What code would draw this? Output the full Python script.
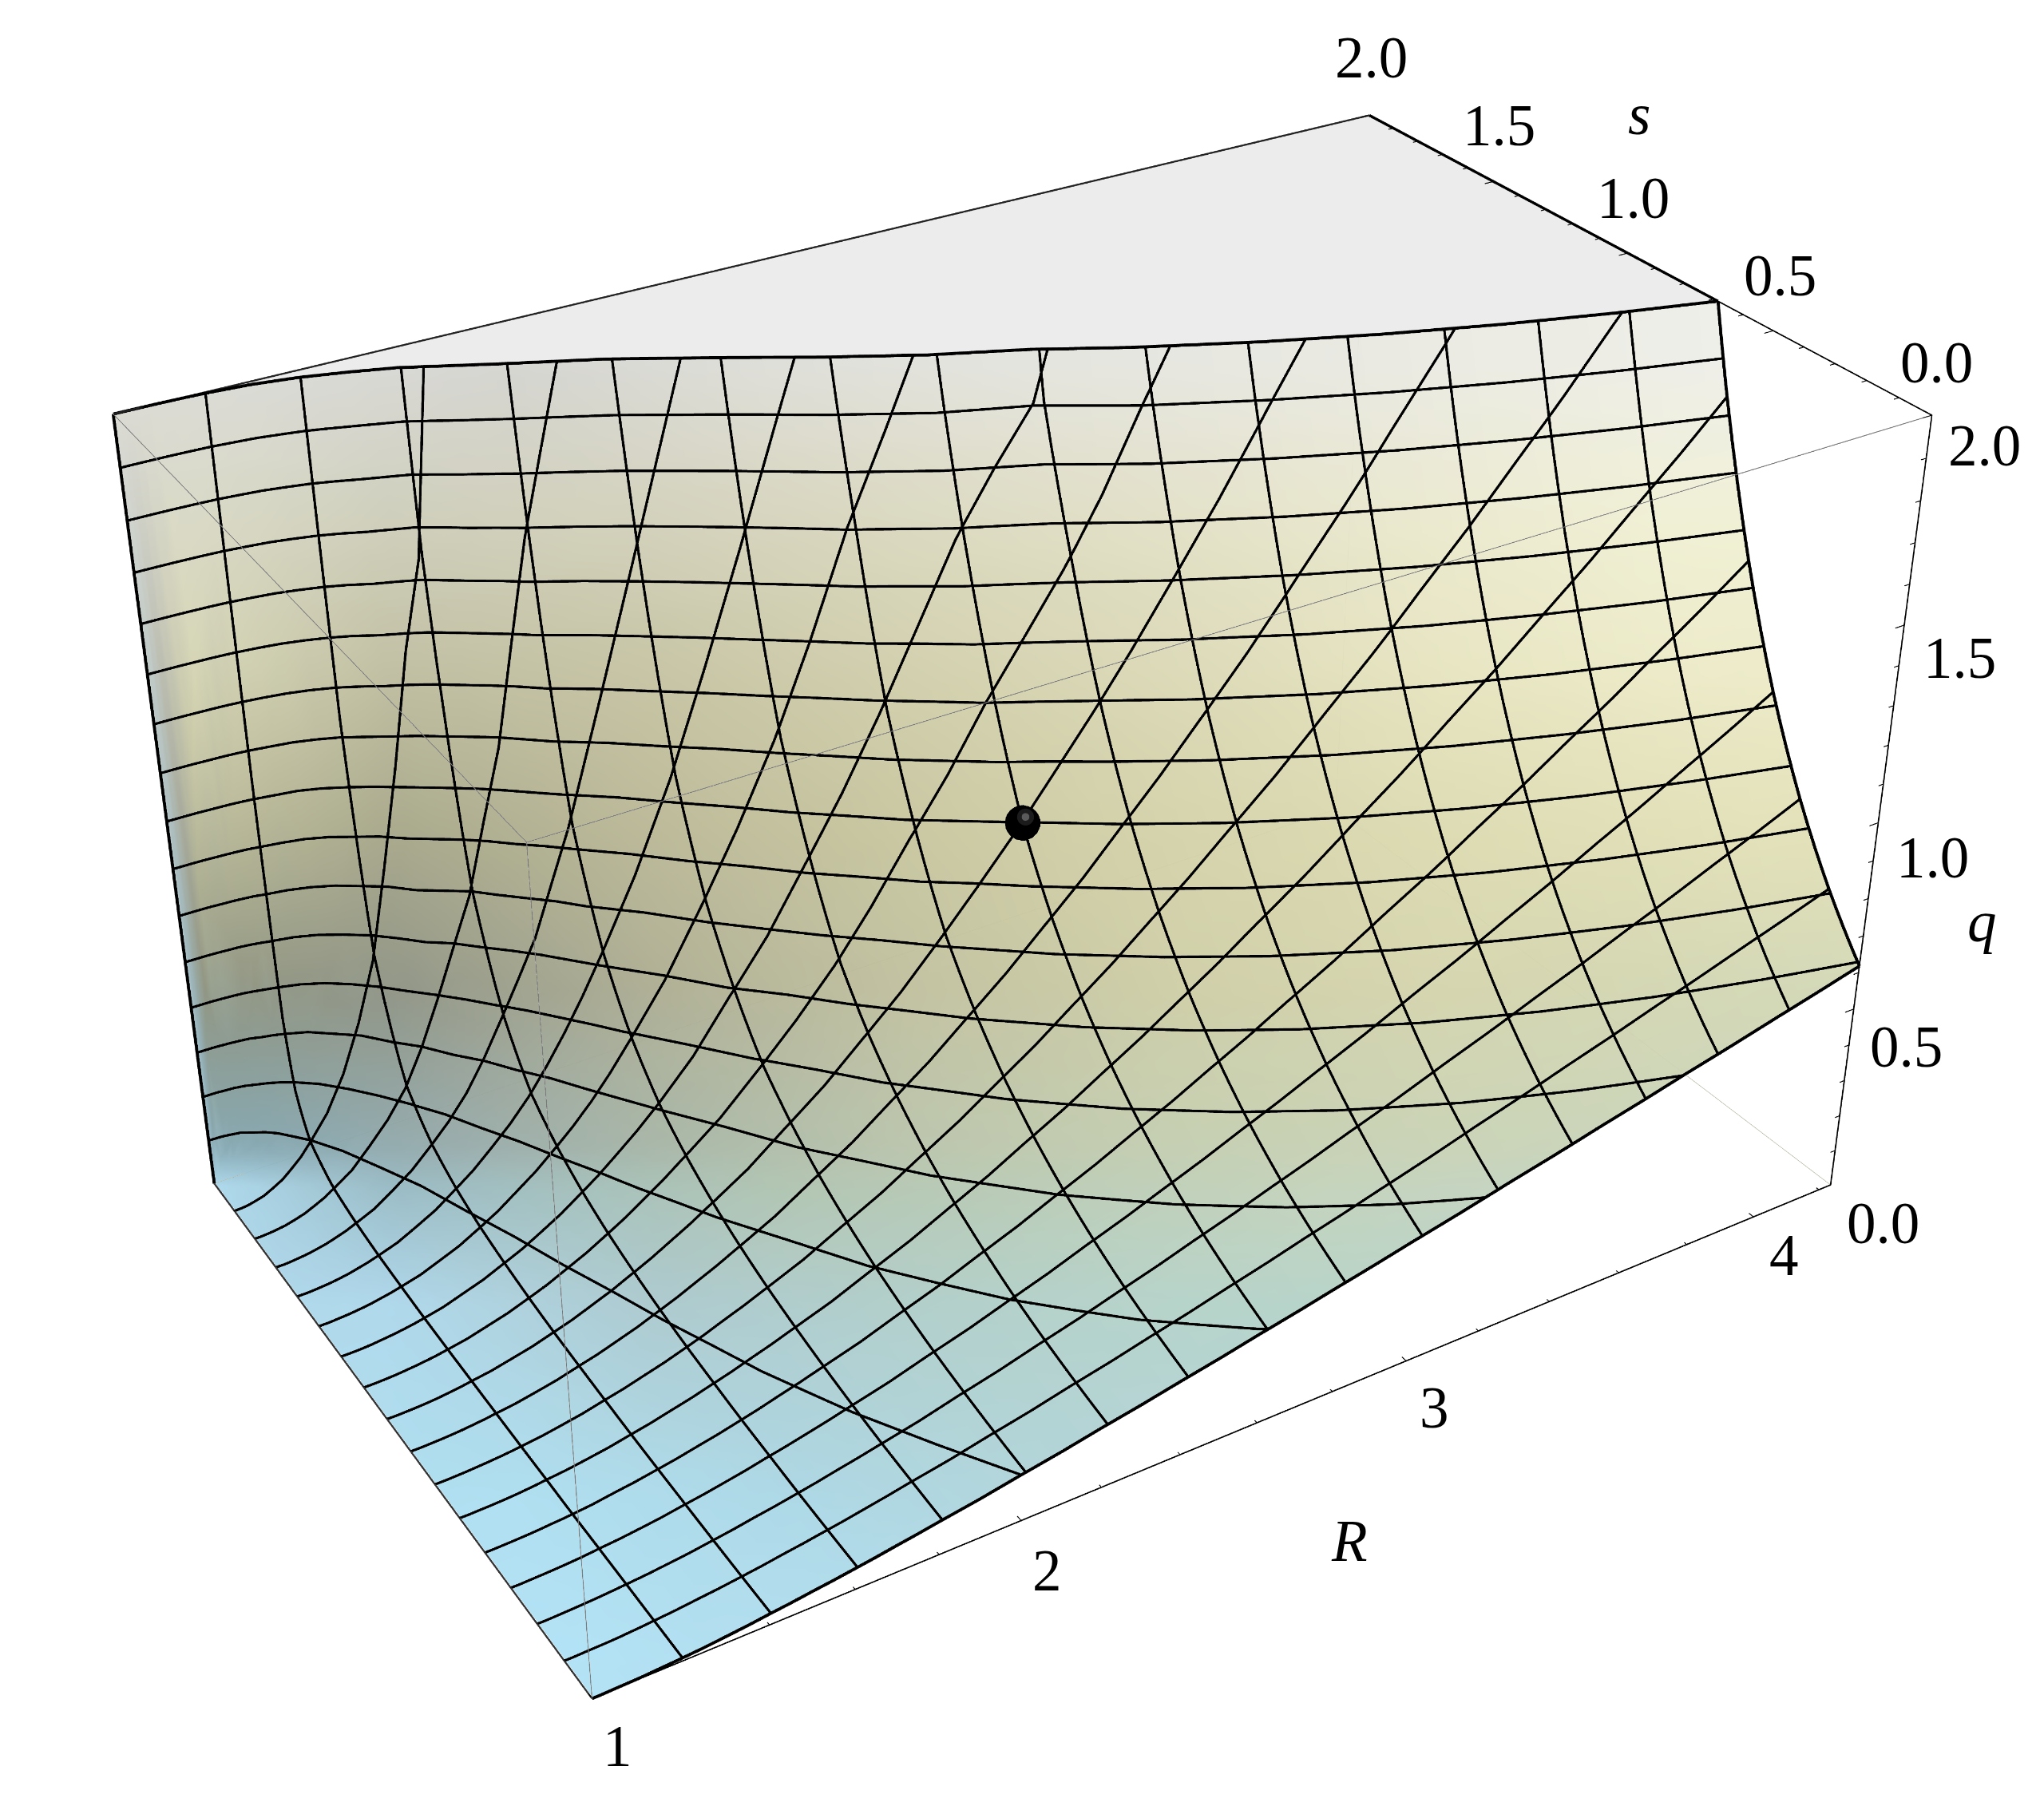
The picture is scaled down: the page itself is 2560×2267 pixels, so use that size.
import numpy as np, plotly.graph_objects as go

# ---- values ----
R_nodes=[1,1.02,1.05,1.1,1.15,1.2,1.3,1.4,1.5,1.6,1.7,1.8,2,2.2,2.4,2.6,2.8,3,3.25,3.5,3.75,4,4.236]
s_nodes=[0,.125,.25,.375,.5,.625,.75,.875,1,1.125,1.25,1.375,1.5,1.625,1.75,1.875,1.94,1.97,1.99,1.995,1.999]
q_rows=[
[0]*21,
[0,0,0,0,0,0,0,0,0,0,0,0,0,0,.001,.001,.002,.004,.009,.017,.068],
[.001,.001,.001,.001,.001,.001,.001,.001,.001,.001,.001,.002,.002,.003,.004,.007,.013,.023,.060,.109,.432],
[.002,.002,.003,.003,.003,.003,.004,.004,.004,.005,.006,.007,.008,.011,.015,.028,.053,.097,.248,.449,1.780],
[.005,.005,.006,.006,.007,.007,.008,.009,.010,.011,.013,.016,.019,.025,.035,.065,.123,.223,.574,1.039],
[.008,.009,.010,.011,.011,.013,.014,.016,.018,.020,.023,.028,.034,.045,.064,.119,.224,.408,1.048,1.898],
[.017,.019,.020,.022,.025,.027,.030,.034,.039,.045,.053,.063,.078,.103,.150,.279,.530,.965],
[.029,.031,.034,.038,.042,.047,.053,.060,.068,.079,.094,.113,.142,.188,.275,.56,1.15,1.796],
[.042,.046,.051,.056,.063,.071,.080,.091,.105,.123,.146,.179,.225,.301,.49,1.05],
[.056,.062,.069,.078,.087,.099,.112,.129,.150,.176,.211,.259,.329,.47,.74,1.55],
[.072,.080,.090,.101,.115,.131,.150,.173,.202,.239,.288,.356,.47,.66,1.1],
[.089,.100,.112,.127,.145,.166,.191,.222,.261,.311,.377,.48,.64,.92,1.6],
[.125,.142,.162,.185,.213,.246,.287,.337,.401,.482,.61,.78,1.05,1.55],
[.164,.188,.216,.249,.290,.338,.398,.473,.567,.690,.89,1.15,1.58],
[.204,.236,.274,.320,.375,.442,.524,.628,.760,.96,1.22,1.63],
[.246,.287,.336,.395,.467,.555,.664,.802,.979,1.25,1.6],
[.289,.340,.401,.475,.566,.677,.817,.995,1.223,1.525,1.88],
[.333,.394,.469,.559,.671,.809,.983,1.204,1.492,1.873],
[.389,.465,.557,.670,.810,.985,1.206,1.491,1.862],
[.446,.537,.648,.785,.957,1.173,1.448,1.803],
[.504,.611,.742,.906,1.112,1.372,1.706],
[.562,.686,.839,1.031,1.274,1.583,1.981],
[.618,.758,.933,1.153,1.433,1.791],
]
s_top_nodes=[2.0,1.99998,1.99983,1.99913,1.99767,1.9953,1.985,1.965,1.935,1.9,1.85,1.80,1.705,1.59,1.47,1.36,1.27,1.1595,1.0389,.9323,.8383,.7552,.6853]
R_min,R_max=1.0,4.236
R_mesh_step=.20225; s_mesh_step=.125; q_mesh_step=.125
dot=(2.618,1.0,1.0)
tick_labels_R=["1","2","3","4"]
tick_labels_s=["0.0","0.5","1.0","1.5","2.0"]
tick_labels_q=["0.0","0.5","1.0","1.5","2.0"]
axis_titles=["<i>R</i>","<i>s</i>","<i>q</i>"]

# ---- styles and layout ----
color_y=[280,400,520,640,760,880,910,1000,1150,1270]
color_x=[[200,400,600,800,1000,1200,1300],[150,300,500,700,900,1100,1280],[130,300,500,700,900,1100,1300],[150,300,500,700,900,1100,1340],
 [170,300,500,700,900,1100,1380],[200,350,500,700,900,1100,1300],[170,300,600,1000,1250],[300,500,700,900],[400,600,800],[450,550]]
color_v=[
[(218,218,215),(212,212,208),(222,222,216),(228,228,222),(232,232,225),(236,236,228),(238,238,232)],
[(216,216,196),(205,205,185),(210,208,185),(218,216,190),(226,224,197),(235,233,205),(240,240,212)],
[(215,215,180),(190,188,158),(196,194,160),(208,206,170),(218,216,180),(230,228,190),(236,234,198)],
[(185,185,150),(165,165,135),(185,183,148),(200,198,158),(212,210,168),(220,218,175),(226,224,182)],
[(140,145,125),(140,145,130),(172,172,145),(192,192,158),(205,205,165),(212,212,172),(210,215,180)],
[(130,165,175),(150,170,170),(165,180,165),(185,195,170),(195,205,175),(200,210,180),(200,212,185)],
[(170,215,235),(150,185,195),(175,195,175),(195,210,185),(195,212,195)],
[(172,215,235),(170,200,205),(175,205,200),(180,210,200)],
[(172,222,240),(170,215,230),(175,212,218)],
[(175,225,245),(175,222,240)],
]
H=4090;YP=1000;W=2560;PAD=.04;TOP=int(round(YP-H/2))
FOC=(H/2)/np.tan(np.pi/8)
EYE=np.array([-1.9638,-3.1890,2.2915]);CTR=np.array([.0068,.0116,.0227]);AX,AY,AZ=1.6197,1.0004,1.0
pos_R=[(773,2187),(1311,1967),(1796,1763),(2234,1572)]
pos_s=[(2425,454),(2229,346),(2045,248),(1877,157),(1717,73)]
pos_q=[(2358,1532),(2387,1311),(2420,1074),(2454,824),(2485,558)]
pos_t=[(1690,1930),(2053,143),(2482,1154)]
labels=list(zip(tick_labels_R+tick_labels_s+tick_labels_q+axis_titles,pos_R+pos_s+pos_q+pos_t))

# ---- table helpers ----
Rn=np.array(R_nodes);S=np.array(s_nodes);EPS=.002
def densify(s,q):
    s2=np.unique(np.concatenate([np.linspace(s[i],s[i+1],5) for i in range(len(s)-1)]))
    return s2,np.maximum.accumulate(np.exp(np.interp(s2,s,np.log(q+EPS)))-EPS)
rows=[]
for r,st in zip(q_rows,s_top_nodes):
    keep=[j for j in range(len(r)) if S[j]<st]
    rows.append(densify(np.r_[S[keep],st],np.r_[np.array(r,float)[keep],2.0]))
def st_at(R): return float(np.interp(R,Rn,s_top_nodes))
def row_at(R):
    i=int(np.searchsorted(Rn,R))
    if i<len(Rn) and abs(Rn[i]-R)<1e-9: return rows[i]
    a,b=rows[i-1],rows[i];w=(R-Rn[i-1])/(Rn[i]-Rn[i-1])
    u=np.unique(np.r_[a[0]/a[0][-1],b[0]/b[0][-1]])
    qa=np.interp(u*a[0][-1],*a);qb=np.interp(u*b[0][-1],*b)
    st=a[0][-1]*(1-w)+b[0][-1]*w
    q=np.exp(np.log(qa+EPS)*(1-w)+np.log(qb+EPS)*w)-EPS
    return u*st,np.maximum.accumulate(q)
extra=[R_min+i*R_mesh_step for i in range(1,16)]
Rf=np.array(sorted(set(np.round(list(Rn)+extra+list((Rn[1:]+Rn[:-1])/2),5))));Rf[-1]=R_max
s_top=np.array([st_at(r) for r in Rf])
Sall=np.r_[S,2.0]
U=np.unique(np.r_[Sall/2,(Sall[1:]+Sall[:-1])/4,np.linspace(0,1,41)])
ni,nj=len(Rf),len(U)
SS=np.outer(s_top,U);QQ=np.zeros_like(SS)
for i,r in enumerate(Rf):
    a,b=row_at(r);QQ[i]=np.interp(SS[i],a,b)
RR=np.repeat(Rf[:,None],nj,axis=1)

# ---- vertex colours sampled by picture position ----
Pn=np.stack([(RR-2.618)/3.236*AX,(SS-1)/2*AY,(QQ-1)/2*AZ],axis=-1)
zc=EYE-CTR;zc=zc/np.linalg.norm(zc);xc=np.cross([0,0,1.],zc);xc/=np.linalg.norm(xc);yc=np.cross(zc,xc)
vv=Pn-EYE;dep=-(vv@zc)
fx=((1280+FOC*(vv@xc)/dep)*1568/2560).ravel();fy=((YP-FOC*(vv@yc)/dep)*1568/2560).ravel()
col=np.zeros((ni*nj,3))
cy=np.array(color_y);idx=np.clip(np.searchsorted(cy,fy)-1,0,len(cy)-2);w=np.clip((fy-cy[idx])/(cy[idx+1]-cy[idx]),0,1)
for ch in range(3):
    M=np.array([np.interp(fx,cx,[c[ch] for c in cv]) for cx,cv in zip(color_x,color_v)])
    col[:,ch]=M[idx,np.arange(len(fx))]*(1-w)+M[idx+1,np.arange(len(fx))]*w
vc=["rgb(%d,%d,%d)"%tuple(c) for c in col]

# ---- surface and clipped top ----
I=[];J=[];K=[]
for i in range(ni-1):
    for j in range(nj-1):
        a=i*nj+j;b=a+1;c=a+nj;d=c+1
        I+=[a,b];J+=[b,d];K+=[c,c]
LIT=dict(ambient=1,diffuse=0,specular=0,roughness=1,fresnel=0)
fig=go.Figure()
fig.add_trace(go.Mesh3d(x=RR.ravel(),y=SS.ravel(),z=QQ.ravel(),i=I,j=J,k=K,vertexcolor=vc,opacity=.95,lighting=LIT,hoverinfo='skip'))
tx=np.r_[Rf,Rf];ty=np.r_[s_top,np.full(ni,2.0)];tz=np.full(2*ni,2.0)
ti=[];tj=[];tk=[]
for i in range(ni-1):
    ti+=[i,i+1];tj+=[i+1,ni+i+1];tk+=[ni+i,ni+i]
fig.add_trace(go.Mesh3d(x=tx,y=ty,z=tz,i=ti,j=tj,k=tk,color='#ececec',opacity=1,lighting=LIT,hoverinfo='skip'))

# ---- lines ----
dv=(EYE-CTR)/np.linalg.norm(EYE-CTR)*.006
dd=np.array([dv[0]*3.236/AX,dv[1]*2/AY,dv[2]*2/AZ])
def add(xs,ys,zs,color='black',width=6):
    xs=np.array(xs,float)+dd[0];ys=np.array(ys,float)+dd[1];zs=np.array(zs,float)+dd[2]
    fig.add_trace(go.Scatter3d(x=xs,y=ys,z=zs,mode='lines',line=dict(color=color,width=width),hoverinfo='skip',showlegend=False))
def join(segs):
    X=[];Y=[];Z=[]
    for a,b,c in segs:
        X+=list(a)+[np.nan];Y+=list(b)+[np.nan];Z+=list(c)+[np.nan]
    return X,Y,Z
segs=[]
for k in range(1,16):
    r=R_min+k*R_mesh_step
    a,b=row_at(r)
    segs.append((np.full(len(a),r),a,b))
for k in range(1,16):
    sv=k*s_mesh_step
    rr=[];qq=[]
    for r,st in zip(Rf,s_top):
        if st<sv: break
        a,b=row_at(r);rr.append(r);qq.append(np.interp(sv,a,b))
    if rr[-1]<R_max-1e-6:
        rr.append(np.interp(-sv,-np.array(s_top_nodes),Rn));qq.append(2.0)
    segs.append((rr,np.full(len(rr),sv),qq))
q0=np.array([row_at(r)[1][0] for r in Rf])
for k in range(1,16):
    lv=k*q_mesh_step
    Rend=np.interp(lv,q0,Rf) if lv<q0[-1] else R_max
    rr=np.r_[Rf[Rf<Rend],Rend];sc=[]
    for r in rr:
        a,b=row_at(r);sc.append(np.interp(lv,b,a))
    segs.append((rr,sc,np.full(len(rr),lv)))
add(*join(segs),width=6)
ar,br=rows[-1]
segs=[(Rf,np.zeros(ni),q0),(Rf,s_top,np.full(ni,2.0)),(np.full(len(ar),R_max),ar,br),([R_min,R_min],[2,2],[0,2])]
add(*join(segs),width=7)
add([R_min,R_min],[0,2],[0,0],color='#333333',width=4)
add([R_min,R_max],[2,2],[2,2],color='#222222',width=4)
add([R_max,R_max],[s_top[-1],2],[2,2],width=6)
add([R_min,R_max,R_max,R_max],[0,0,0,s_top[-1]],[0,0,2,2],width=3)
add(*join([([R_min,R_max],[2,2],[0,0]),([R_max,R_max],[0,2],[0,0]),([R_max,R_max],[2,2],[0,2])]),color='#a8a890',width=1)
add(*join([([R_min,R_min],[0,0],[0,2]),([R_min,R_max],[0,0],[2,2]),([R_min,R_min],[0,2],[2,2])]),color='#777777',width=2)
segs=[]
for v in np.arange(1,4.21,.2):
    L=.016 if abs(v-round(v))<1e-6 else .009
    segs.append(([v,v],[0,L],[0,0]))
for v in np.arange(0,2.01,.1):
    L=.016 if abs(v*2-round(v*2))<1e-6 else .009
    segs.append(([R_max,R_max-L*1.6],[v,v],[2,2]))
    segs.append(([R_max,R_max-L*1.6],[0,0],[v,v]))
add(*join(segs),width=2)

# ---- point ----
def marker(P,size,color):
    fig.add_trace(go.Scatter3d(x=[P[0]],y=[P[1]],z=[P[2]],mode='markers',marker=dict(size=size,color=color,line=dict(width=0)),hoverinfo='skip'))
marker(np.array(dot)+dd*6,23,'black')
marker(np.array(dot)+dd*9+np.array([.008,0,.012]),11,'#1c1c1c')
marker(np.array(dot)+dd*12+np.array([.008,0,.012]),5,'#5a5a5a')

anns=[dict(x=p[0]/W,y=1-(p[1]-TOP)/H,xref='paper',yref='paper',text=t,showarrow=False,xanchor='center',yanchor='middle',
      font=dict(family='Liberation Serif',size=73,color='black')) for t,p in labels]
rng=lambda a,b:[a-(b-a)*PAD/2,b+(b-a)*PAD/2]
noax=dict(visible=False)
fig.update_layout(width=W,height=H,margin=dict(l=0,r=0,t=0,b=0),paper_bgcolor='white',showlegend=False,annotations=anns,
  scene=dict(domain=dict(x=[0,1],y=[0,1]),aspectmode='manual',
    aspectratio=dict(x=AX*(1+PAD),y=AY*(1+PAD),z=AZ*(1+PAD)),
    xaxis=dict(noax,range=rng(R_min,R_max)),yaxis=dict(noax,range=rng(0,2)),zaxis=dict(noax,range=rng(0,2)),
    bgcolor='white',
    camera=dict(eye=dict(x=EYE[0],y=EYE[1],z=EYE[2]),center=dict(x=CTR[0],y=CTR[1],z=CTR[2]),up=dict(x=0,y=0,z=1))))
ps="document.documentElement.style.overflow='hidden';document.body.style.margin='0';document.getElementsByClassName('plotly-graph-div')[0].style.marginTop='%dpx';"%TOP
fig.write_html("out.html",post_script=ps)
